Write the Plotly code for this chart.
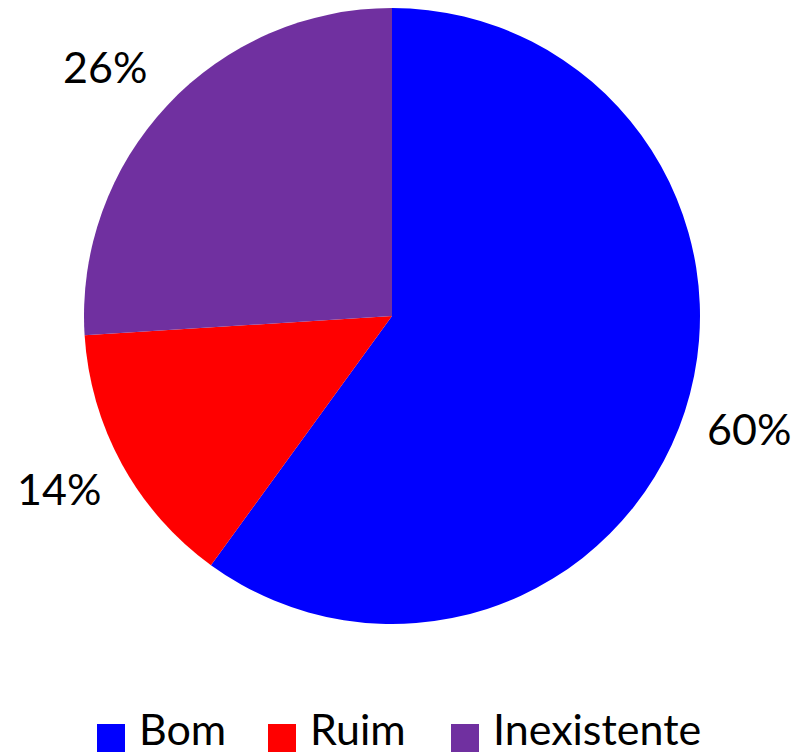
import math
import plotly.graph_objects as go

categories = ["Bom", "Ruim", "Inexistente"]
values = [60, 14, 26]
colors = ["#0000FF", "#FF0000", "#7030A0"]

OFF = 8  # page body margin
W, H = 811 - OFF, 756 - OFF
CX, CY, R = 392 - OFF, 316 - OFF, 308  # pie centre / radius in px

fig = go.Figure(go.Pie(
    labels=categories, values=values, sort=False, direction="clockwise",
    rotation=0, marker=dict(colors=colors, line=dict(width=0)),
    textinfo="none", hoverinfo="label+percent", showlegend=False,
    domain=dict(x=[(CX - R) / W, (CX + R) / W], y=[(H - CY - R) / H, (H - CY + R) / H]),
))

font = dict(family="Lato, 'Open Sans', sans-serif", size=43, color="black")
annotations = []
total = sum(values)
label_shift = [(0, 4), (-4, 9), (-13, -8)]  # fine placement nudges (px)
cum = 0
for i, v in enumerate(values):
    mid = (cum + v / 2) / total * 2 * math.pi
    cum += v
    rr = R * 1.22
    px = CX + rr * math.sin(mid)
    py = CY - rr * math.cos(mid)
    annotations.append(dict(x=px / W, y=1 - py / H, xref="paper", yref="paper",
                            text=f"{round(v / total * 100)}%", showarrow=False,
                            xshift=label_shift[i][0], yshift=label_shift[i][1],
                            font=font, xanchor="center", yanchor="middle"))

# custom legend
shapes = []
leg_x = [97 - OFF, 268 - OFF, 451 - OFF]
sq = 28
sq_top = 724 - OFF
for i, name in enumerate(categories):
    x0 = leg_x[i]
    shapes.append(dict(type="rect", xref="paper", yref="paper",
                       x0=x0 / W, x1=(x0 + sq) / W,
                       y0=1 - (sq_top + sq) / H, y1=1 - sq_top / H,
                       fillcolor=colors[i], line=dict(width=0)))
    annotations.append(dict(x=(x0 + sq + 12) / W, y=0, xref="paper", yref="paper",
                            text=name, showarrow=False, font=font,
                            xanchor="left", yanchor="bottom"))

fig.update_layout(width=W, height=H, margin=dict(l=0, r=0, t=0, b=0),
                  paper_bgcolor="white", plot_bgcolor="white",
                  annotations=annotations, shapes=shapes)
fig.write_html("out.html")
